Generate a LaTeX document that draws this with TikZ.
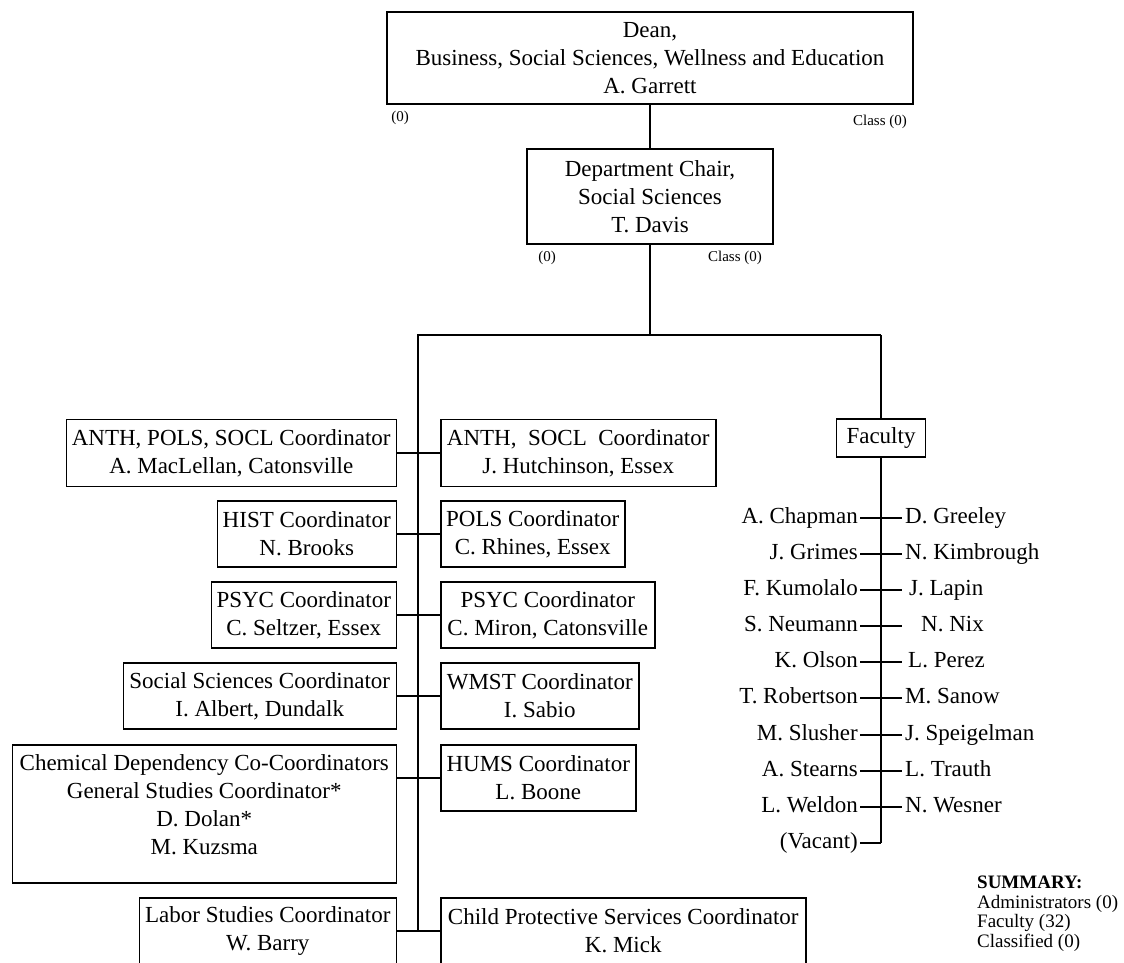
\documentclass[tikz,border=0pt]{standalone}
\usepackage{fontspec}
\setmainfont{Liberation Serif}
\begin{document}
\begin{tikzpicture}[x=1pt,y=-1pt,
  box/.style={draw, line width=1.5pt, align=center, inner sep=0pt, font=\fontsize{23}{28}\selectfont},
  conn/.style={line width=1.4pt},
  spine/.style={line width=2.2pt},
  small/.style={font=\fontsize{15}{18}\selectfont, inner sep=0pt},
  person/.style={font=\fontsize{23}{28}\selectfont, inner xsep=2pt, inner ysep=0pt, text height=15pt, text depth=5pt},
  summ/.style={font=\fontsize{19}{19.5}\selectfont, align=left, inner sep=0pt, anchor=north west},
]
\useasboundingbox (0,0) rectangle (1124,963);
\clip (0,0) rectangle (1124,963);

% top
\node[box, minimum width=526, minimum height=92] (dean) at (650,58)
  {Dean,\\Business, Social Sciences, Wellness and Education\\A. Garrett};
\node[box, minimum width=246, minimum height=95] (chair) at (650,196.5)
  {Department Chair,\\Social Sciences\\T. Davis};
\node[small] (d0) at (400,118) {(0)};
\node[small] (dc) at (880,122) {Class (0)};
\node[small] (c0) at (547,258) {(0)};
\node[small] (cc) at (735,258) {Class (0)};
\draw[conn] (dean.south) -- (chair.north);

\coordinate (bar) at (650,335);
\coordinate (barL) at (418,335);
\coordinate (barR) at (881,335);
\coordinate (spend) at (418,931);
\draw[conn] (chair.south) -- (bar);
\draw[spine] (barR) -- (barL) -- (spend);

% left column
\node[box, anchor=east, minimum width=330, minimum height=67] (L1) at (397,453)
  {ANTH, POLS, SOCL Coordinator\\A. MacLellan, Catonsville};
\node[box, anchor=east, minimum width=179, minimum height=66] (L2) at (397,534)
  {HIST Coordinator\\N. Brooks};
\node[box, anchor=east, minimum width=185, minimum height=66] (L3) at (397,615)
  {PSYC Coordinator\\C. Seltzer, Essex};
\node[box, anchor=east, minimum width=273, minimum height=66] (L4) at (397,696)
  {Social Sciences Coordinator\\I. Albert, Dundalk};
\node[box, anchor=east, minimum width=384, minimum height=138] (L5) at (397,814) {};
\node[font=\fontsize{23}{28}\selectfont, align=center, inner sep=0pt, anchor=north] (L5t) at ([yshift=-10]L5.north)
  {Chemical Dependency Co-Coordinators\\General Studies Coordinator*\\D. Dolan*\\M. Kuzsma};
\node[box, anchor=east, minimum width=257, minimum height=66] (L6) at (397,931)
  {Labor Studies Coordinator\\W. Barry};

% right column
\node[box, anchor=west, minimum width=275, minimum height=67] (R1) at (440,453)
  {ANTH,\ \ SOCL\ \ Coordinator\\J. Hutchinson, Essex};
\node[box, anchor=west, minimum width=184, minimum height=66] (R2) at (440,534)
  {POLS Coordinator\\C. Rhines, Essex};
\node[box, anchor=west, minimum width=214, minimum height=66] (R3) at (440,615)
  {PSYC Coordinator\\C. Miron, Catonsville};
\node[box, anchor=west, minimum width=198, minimum height=66] (R4) at (440,696)
  {WMST Coordinator\\I. Sabio};
\node[box, anchor=west, minimum width=195, minimum height=66] (R5) at (440,778)
  {HUMS Coordinator\\L. Boone};
\node[box, anchor=west, minimum width=365, minimum height=66] (R6) at (440,931)
  {Child Protective Services Coordinator\\K. Mick};

\draw[conn] (L1.east) -- (R1.west);
\draw[conn] (L2.east) -- (R2.west);
\draw[conn] (L3.east) -- (R3.west);
\draw[conn] (L4.east) -- (R4.west);
\draw[conn] (L5.east |- R5.west) -- (R5.west);
\draw[conn] (L6.east) -- (R6.west);

% faculty
\node[box, minimum width=89, minimum height=38] (fac) at (881,438) {Faculty};
\draw[conn] (barR) -- (fac.north);
\coordinate (fend) at (881,843);
\draw[spine] (fac.south) -- (fend);

\foreach \y/\n [count=\i] in {518/A. Chapman, 554/J. Grimes, 590/F. Kumolalo, 626/S. Neumann,
  662/K. Olson, 698/T. Robertson, 735/M. Slusher, 771/A. Stearns, 807/L. Weldon, 843/(Vacant)}
  \node[person, anchor=east] (l\i) at (860,\y) {\n};

\foreach \y/\x/\n [count=\i] in {518/903/D. Greeley, 554/903/N. Kimbrough, 590/907/J. Lapin,
  626/919/N. Nix, 662/906/L. Perez, 698/903/M. Sanow, 735/903/J. Speigelman,
  771/903/L. Trauth, 807/903/N. Wesner}
  {
  \node[person, anchor=west] (r\i) at (\x,\y) {\n};
  \coordinate (t\i) at (902,\y);
  \draw[conn] (l\i.east) -- (t\i);
  }
\draw[conn] (l10.east) -- (fend);

% summary
\node[summ] (sum) at (977,876)
  {\textbf{SUMMARY:}\\Administrators (0)\\Faculty (32)\\Classified (0)};
\end{tikzpicture}
\end{document}
